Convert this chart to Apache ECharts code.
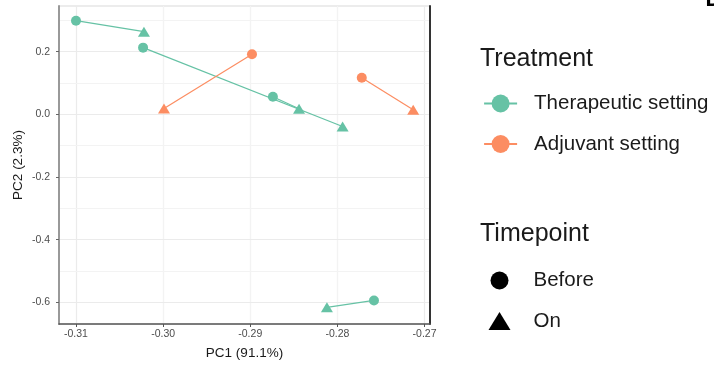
<!DOCTYPE html>
<html><head><meta charset="utf-8">
<script src="https://cdn.jsdelivr.net/npm/echarts@6/dist/echarts.min.js"></script>
<style>html,body{margin:0;padding:0;background:#fff}#c{width:714px;height:368px}</style>
</head><body><div id="c"></div>
<script>
// ---- data ----
const treatments = ['Therapeutic setting', 'Adjuvant setting'];
const timepoints = ['Before', 'On'];
const therapeuticBeforeX = [-0.3100, -0.3023, -0.2874, -0.2758];
const therapeuticBeforeY = [0.299, 0.213, 0.056, -0.594];
const therapeuticOnX = [-0.3022, -0.2794, -0.2844, -0.2812];
const therapeuticOnY = [0.264, -0.039, 0.018, -0.616];
const adjuvantBeforeX = [-0.2898, -0.2772];
const adjuvantBeforeY = [0.192, 0.117];
const adjuvantOnX = [-0.2999, -0.2713];
const adjuvantOnY = [0.019, 0.015];
const xTicks = [-0.31, -0.30, -0.29, -0.28, -0.27];
const yTicks = [-0.6, -0.4, -0.2, 0.0, 0.2];
const xMinor = [-0.305, -0.295, -0.285, -0.275];
const yMinor = [-0.5, -0.3, -0.1, 0.1, 0.3];
const xTitle = 'PC1 (91.1%)';
const yTitle = 'PC2 (2.3%)';

const colors = ['#66C2A5', '#FC8D62'];
const FONT = 'Liberation Sans';
const X_MIN = -0.31195, X_MAX = -0.26937, Y_MIN = -0.6693, Y_MAX = 0.3459;

function pairSeries(name, color, bx, by, ox, oy) {
  return bx.map((_, i) => ({
    type: 'line', name: name, z: 3, animation: false,
    symbol: 'circle', symbolSize: 10,
    lineStyle: { color: color, width: 1.2 },
    itemStyle: { color: color },
    emphasis: { disabled: true },
    data: [
      { value: [bx[i], by[i]], symbol: 'circle', symbolSize: 10 },
      { value: [ox[i], oy[i]], symbol: 'triangle', symbolSize: [12, 10] }
    ]
  }));
}

const gridLines = [];
xTicks.forEach(v => gridLines.push({ xAxis: v, lineStyle: { color: '#EBEBEB', width: 1.2, type: 'solid' } }));
xMinor.forEach(v => gridLines.push({ xAxis: v, lineStyle: { color: '#F3F3F3', width: 1, type: 'solid' } }));
yTicks.forEach(v => gridLines.push({ yAxis: v, lineStyle: { color: '#EBEBEB', width: 1.2, type: 'solid' } }));
yMinor.forEach(v => gridLines.push({ yAxis: v, lineStyle: { color: '#F3F3F3', width: 1, type: 'solid' } }));

const series = [
  {
    type: 'line', name: '_grid', data: [], z: 1, silent: true, animation: false,
    markLine: { silent: true, symbol: 'none', z: 1, animation: false, label: { show: false }, data: gridLines }
  },
  ...pairSeries(treatments[0], colors[0], therapeuticBeforeX, therapeuticBeforeY, therapeuticOnX, therapeuticOnY),
  ...pairSeries(treatments[1], colors[1], adjuvantBeforeX, adjuvantBeforeY, adjuvantOnX, adjuvantOnY),
  { type: 'scatter', name: timepoints[0], data: [], itemStyle: { color: '#000', opacity: 1 }, symbol: 'circle' },
  { type: 'scatter', name: timepoints[1], data: [], itemStyle: { color: '#000', opacity: 1 }, symbol: 'triangle' }
];

const chart = echarts.init(document.getElementById('c'), null, { renderer: 'canvas' });
chart.setOption({
  animation: false,
  textStyle: { fontFamily: FONT },
  grid: { left: 59, right: 284, top: 6, bottom: 44, show: true, borderColor: '#D9D9D9', borderWidth: 1 },
  xAxis: {
    type: 'value', min: X_MIN, max: X_MAX, z: 5,
    axisLine: { show: true, onZero: false, lineStyle: { color: '#555', width: 1.5 } },
    axisTick: { show: true, customValues: xTicks, length: 3, lineStyle: { color: '#555' } },
    axisLabel: { customValues: xTicks, formatter: v => v.toFixed(2), fontSize: 10.5, color: '#4D4D4D', margin: 5, fontFamily: FONT },
    splitLine: { show: false },
    name: xTitle, nameLocation: 'middle', nameGap: 22, nameMoveOverlap: false,
    nameTextStyle: { fontSize: 13.5, color: '#1a1a1a', fontFamily: FONT }
  },
  yAxis: [{
    type: 'value', min: Y_MIN, max: Y_MAX, position: 'left', z: 5,
    axisLine: { show: true, onZero: false, lineStyle: { color: '#999', width: 2 } },
    axisTick: { show: true, customValues: yTicks, length: 3, lineStyle: { color: '#666' } },
    axisLabel: { customValues: yTicks, formatter: v => v.toFixed(1), fontSize: 10.5, color: '#4D4D4D', margin: 9, fontFamily: FONT },
    splitLine: { show: false },
    name: yTitle, nameLocation: 'middle', nameGap: 34, nameRotate: 90, nameMoveOverlap: false,
    nameTextStyle: { fontSize: 13.5, color: '#1a1a1a', fontFamily: FONT }
  }, {
    type: 'value', min: Y_MIN, max: Y_MAX, position: 'right', z: 5,
    axisLine: { show: true, onZero: false, lineStyle: { color: '#333', width: 2 } },
    axisTick: { show: false }, axisLabel: { show: false }, splitLine: { show: false }
  }],
  legend: [{
    data: treatments, orient: 'vertical', left: 483, top: 93, padding: 0,
    itemWidth: 33, itemHeight: 22.5, itemGap: 19.5, selectedMode: false,
    lineStyle: { width: 2.2 },
    textStyle: { fontSize: 20.5, color: '#1a1a1a', fontFamily: FONT, padding: [0, 0, 0, 12] }
  }, {
    data: [{ name: timepoints[0], icon: 'circle' }, { name: timepoints[1], icon: 'triangle' }],
    orient: 'vertical', left: 488.5, top: 270, padding: 0,
    itemWidth: 22, itemHeight: 18, itemGap: 19.5, selectedMode: false,
    itemStyle: { color: '#000', opacity: 1 },
    textStyle: { fontSize: 20.5, color: '#1a1a1a', fontFamily: FONT, padding: [0, 0, 0, 18] }
  }],
  graphic: [
    { type: 'text', style: { text: 'Treatment', x: 480, y: 59.3, verticalAlign: 'middle', font: '25px "Liberation Sans"', fill: '#1a1a1a' } },
    { type: 'text', style: { text: 'Timepoint', x: 480, y: 234, verticalAlign: 'middle', font: '25px "Liberation Sans"', fill: '#1a1a1a' } },
    { type: 'text', style: { text: 'D', x: 705.5, y: 11, verticalAlign: 'bottom', font: 'bold 22px "Liberation Sans"', fill: '#000' } }
  ],
  series: series
});
</script></body></html>
